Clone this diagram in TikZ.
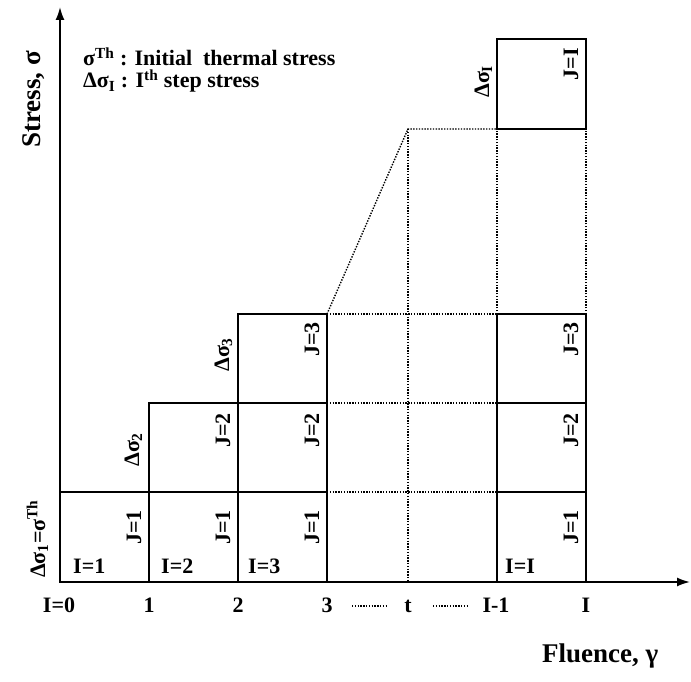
\documentclass[tikz,border=0pt]{standalone}
\usepackage{fontspec}
\setmainfont{Liberation Serif}
\usetikzlibrary{arrows.meta}
\begin{document}
\begin{tikzpicture}[x=1pt,y=1pt,
  lbl/.style={font=\bfseries\fontsize{22}{22}\selectfont, inner sep=0pt},
  leg/.style={font=\bfseries\fontsize{22}{22}\selectfont, inner sep=0pt, align=left},
  big/.style={font=\bfseries\fontsize{27}{27}\selectfont, inner sep=0pt},
  jlbl/.style={lbl, rotate=90, anchor=east},
  dlbl/.style={lbl, rotate=90, anchor=base west},
  ilbl/.style={lbl, anchor=west},
  tick/.style={lbl, anchor=base},
  box/.style={line width=1.5pt},
  dotl/.style={line width=1.4pt, dash pattern=on 1.4pt off 1.4pt},
  axis/.style={line width=1.8pt, -{Latex[length=13pt,width=9pt]}}]
\useasboundingbox (0,0) rectangle (691,682);
% solid boxes
\draw[box] (60,100) rectangle (149,190);
\draw[box] (149,100) rectangle (238,190);
\draw[box] (149,190) rectangle (238,279);
\draw[box] (238,100) rectangle (327,190);
\draw[box] (238,190) rectangle (327,279);
\draw[box] (238,279) rectangle (327,368);
\draw[box] (497,100) rectangle (586,190);
\draw[box] (497,190) rectangle (586,279);
\draw[box] (497,279) rectangle (586,368);
\draw[box] (497,553) rectangle (586,643);
% dotted construction
\draw[dotl] (327,368) -- (408,553) -- (497,553);
\draw[dotl] (408,553) -- (408,100);
\draw[dotl] (327,190) -- (497,190);
\draw[dotl] (327,279) -- (497,279);
\draw[dotl] (327,368) -- (497,368);
\draw[dotl] (497,368) -- (497,553);
\draw[dotl] (586,368) -- (586,553);
% axes
\coordinate (O) at (60,100);
\coordinate (ytip) at (60,675);
\coordinate (xtip) at (690,100);
\draw[axis] (O) -- (ytip);
\draw[axis] (O) -- (xtip);
% J labels
\node[jlbl] (j11) at (134,172) {J=1};
\node[jlbl] (j21) at (223,172) {J=1};
\node[jlbl] (j31) at (312,172) {J=1};
\node[jlbl] (jI1) at (571,172) {J=1};
\node[jlbl] (j22) at (223,269) {J=2};
\node[jlbl] (j32) at (312,269) {J=2};
\node[jlbl] (jI2) at (571,269) {J=2};
\node[jlbl] (j33) at (312,360) {J=3};
\node[jlbl] (jI3) at (571,360) {J=3};
\node[jlbl] (jII) at (571,634) {J=I};
% I labels
\node[ilbl] (i1) at (73,116) {I=1};
\node[ilbl] (i2) at (161,116) {I=2};
\node[ilbl] (i3) at (248,116) {I=3};
\node[ilbl] (iI) at (505,116) {I=I};
% delta sigma labels
\node[dlbl] (d1) at (45,104) {Δσ\textsubscript{1}=σ\textsuperscript{Th}};
\node[dlbl] (d2) at (139,215) {Δσ\textsubscript{2}};
\node[dlbl] (d3) at (229,310) {Δσ\textsubscript{3}};
\node[dlbl] (dI) at (489,584) {Δσ\textsubscript{I}};
% tick labels
\node[tick] (t0) at (59,69) {I=0};
\node[tick] (t1) at (149,69) {1};
\node[tick] (t2) at (238,69) {2};
\node[tick] (t3) at (327,69) {3};
\node[tick] (tt) at (408,69) {t};
\node[tick] (tI1) at (496,69) {I-1};
\node[tick] (tI) at (586,69) {I};
\draw[dotl] (352,76) -- (388,76);
\draw[dotl] (433,76) -- (469,76);
% axis titles
\node[big, anchor=base west] (xl) at (542,19) {Fluence, γ};
\node[big, rotate=90, anchor=base west] (yl) at (40,534) {Stress, σ};
% legend
\node[leg, anchor=base west] (leg) at (83,594) {σ\textsuperscript{Th} : Initial\ \ thermal stress\\Δσ\textsubscript{I} : I\textsuperscript{th} step stress};
\end{tikzpicture}
\end{document}
